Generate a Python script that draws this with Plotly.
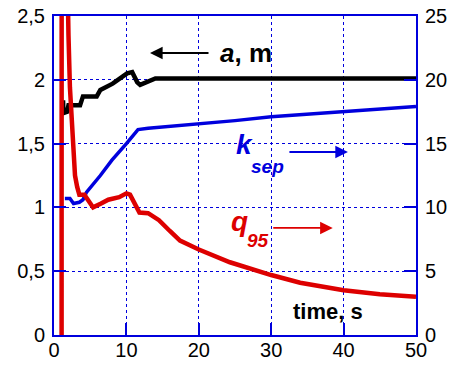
import plotly.graph_objects as go

# ---- data ----
t_a = [1.25, 1.3, 1.8, 2.0, 3.6, 4.0, 5.9, 6.4, 8.1, 9.0, 10.1, 10.8, 11.5, 11.9, 12.3, 13.0, 14.0, 20, 30, 40, 50]
a_m = [1.84, 1.74, 1.75, 1.80, 1.80, 1.87, 1.87, 1.92, 1.97, 2.01, 2.05, 2.06, 1.98, 1.96, 1.97, 1.99, 2.01, 2.01, 2.01, 2.01, 2.01]

t_k = [1.5, 2.2, 2.7, 3.5, 4.0, 4.5, 6.4, 8.0, 10.0, 11.6, 13.0, 15, 20, 25, 30, 35, 40, 45, 50]
k_sep = [10.7, 10.7, 10.3, 10.4, 10.6, 11.2, 12.5, 13.7, 15.0, 16.1, 16.2, 16.3, 16.5, 16.8, 17.1, 17.3, 17.55, 17.7, 17.9]

t_q = [1.05, 1.06, 1.8, 1.85, 2.0, 2.2, 2.6, 2.9, 3.2, 3.5, 4.2, 5.4, 6.5, 7.5, 9.0, 10.0, 10.5, 11.2, 11.8, 13.0, 14.5, 16.0, 17.4, 20, 24.3, 30, 34, 40, 45, 50]
q95 = [0, 30, 30, 24.0, 23.5, 19.4, 14.5, 12.5, 11.6, 11.0, 11.0, 10.0, 10.3, 10.6, 10.8, 11.1, 11.0, 10.2, 9.6, 9.55, 9.0, 8.15, 7.4, 6.7, 5.7, 4.7, 4.1, 3.5, 3.2, 3.0]

x_ticks = [0, 10, 20, 30, 40, 50]
left_ticks = [0, 0.5, 1, 1.5, 2, 2.5]
left_labels = ["0", "0,5", "1", "1,5", "2", "2,5"]
right_ticks = [0, 5, 10, 15, 20, 25]

FONT = "Arial, Liberation Sans, sans-serif"
BLUE = "#0000dd"
RED = "#dd0000"

fig = go.Figure()
fig.add_trace(go.Scatter(x=t_a, y=a_m, mode="lines", line=dict(color="black", width=4.5), yaxis="y"))
fig.add_trace(go.Scatter(x=t_k, y=k_sep, mode="lines", line=dict(color=BLUE, width=3.5), yaxis="y2"))
fig.add_trace(go.Scatter(x=t_q, y=q95, mode="lines", line=dict(color=RED, width=4.5), yaxis="y2"))

axis_common = dict(
    showline=True, linecolor=BLUE, linewidth=2, mirror=True, automargin=False,
    ticks="inside", ticklen=12, tickcolor=BLUE, tickwidth=1.5,
    showgrid=True, gridcolor=BLUE, griddash="dot", gridwidth=1,
    zeroline=False, tickfont=dict(family=FONT, size=20, color="black"),
)

fig.update_layout(
    width=451, height=365,
    margin=dict(l=54, r=35, t=16, b=30),
    paper_bgcolor="white", plot_bgcolor="white",
    showlegend=False,
    xaxis=dict(range=[0, 50], tickvals=x_ticks, ticklabelstandoff=-4, **axis_common),
    yaxis=dict(range=[0, 2.5], tickvals=left_ticks, ticktext=left_labels, ticklabelstandoff=3, **axis_common),
    yaxis2=dict(range=[0, 25], tickvals=right_ticks, overlaying="y", side="right",
                showline=True, linecolor=BLUE, linewidth=2, automargin=False,
                ticks="inside", ticklen=12, tickcolor=BLUE, tickwidth=1.5,
                showgrid=False, zeroline=False, ticklabelstandoff=3,
                tickfont=dict(family=FONT, size=20, color="black")),
)

anns = [
    # a, m
    dict(x=13.26, y=2.21, ax=60, ay=0, showarrow=True, arrowhead=2, arrowsize=1.4,
         arrowwidth=1.8, arrowcolor="black", text=""),
    dict(x=22.7, y=2.21, text="<b><i>a</i>, m</b>", showarrow=False, xanchor="left",
         yanchor="middle", font=dict(family=FONT, size=26, color="black")),
    # k_sep
    dict(x=40.6, y=1.434, ax=-60, ay=0, showarrow=True, arrowhead=2, arrowsize=1.4,
         arrowwidth=1.8, arrowcolor=BLUE, text=""),
    dict(x=24.8, y=1.49, text="<b><i>k</i></b>", showarrow=False, xanchor="left",
         yanchor="middle", font=dict(family=FONT, size=28, color=BLUE)),
    dict(x=26.9, y=1.32, text="<b><i>sep</i></b>", showarrow=False, xanchor="left",
         yanchor="middle", font=dict(family=FONT, size=19, color=BLUE)),
    # q95
    dict(x=38.5, y=0.839, ax=-61, ay=0, showarrow=True, arrowhead=2, arrowsize=1.4,
         arrowwidth=1.8, arrowcolor=RED, text=""),
    dict(x=24.2, y=0.89, text="<b><i>q</i></b>", showarrow=False, xanchor="left",
         yanchor="middle", font=dict(family=FONT, size=28, color=RED)),
    dict(x=26.4, y=0.74, text="<b><i>95</i></b>", showarrow=False, xanchor="left",
         yanchor="middle", font=dict(family=FONT, size=19, color=RED)),
    # time, s
    dict(x=32.8, y=0.185, text="<b>time, s</b>", showarrow=False, xanchor="left",
         yanchor="middle", font=dict(family=FONT, size=22, color="black")),
]
fig.update_layout(annotations=anns)

fig.write_html("out.html", config={"displayModeBar": False},
               post_script="document.body.style.margin='0';document.body.style.overflow='hidden';")
